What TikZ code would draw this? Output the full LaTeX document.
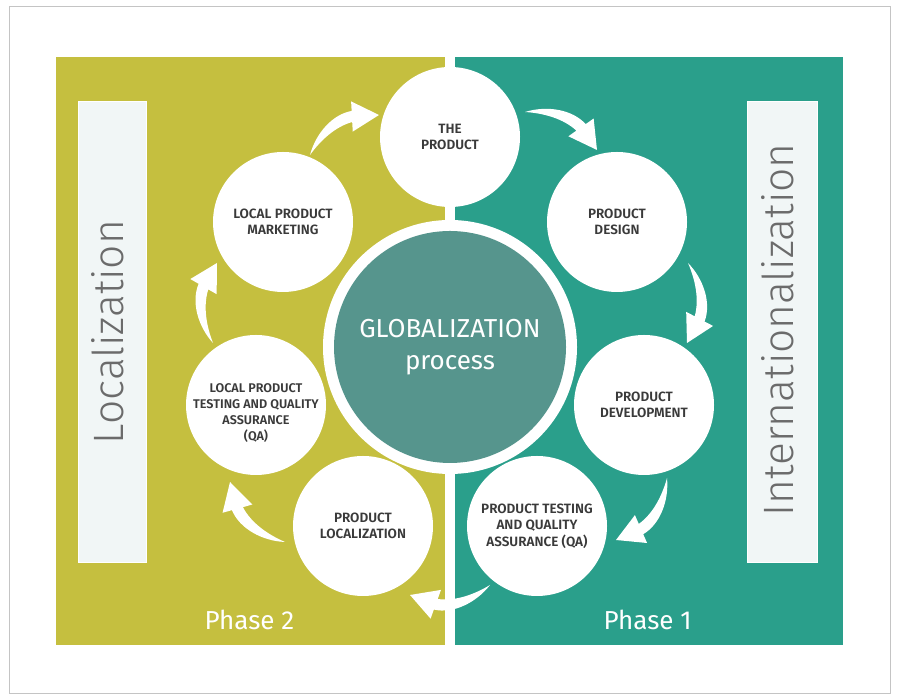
\documentclass[tikz,border=0pt]{standalone}
\usepackage{fontspec}
\setmainfont{Fira Sans}
\newfontfamily\lightfont{Fira Sans Light}
\newfontfamily\labelfont{Fira Sans SemiBold}
\usetikzlibrary{calc}
\definecolor{paneloli}{HTML}{C5BF3F}
\definecolor{panelteal}{HTML}{2A9F8B}
\definecolor{coreteal}{HTML}{56958D}
\definecolor{boxfill}{HTML}{F1F6F6}
\definecolor{boxtext}{HTML}{6B6B6B}
\definecolor{labelgray}{HTML}{3A3A3A}
\definecolor{framegray}{HTML}{C4C4C4}
\newcommand\flowarrow[2]{%
  \path (#1); \pgfgetlastxy{\arrAx}{\arrAy}%
  \path (#2); \pgfgetlastxy{\arrBx}{\arrBy}%
  \pgfmathsetmacro\arrLen{veclen(\arrBx-\arrAx,\arrBy-\arrAy)}%
  \pgfmathsetmacro\arrAng{atan2(\arrBy-\arrAy,\arrBx-\arrAx)}%
  \begin{scope}[shift={(#1)},rotate=\arrAng,x=\arrLen pt,y=\arrLen pt]
    \fill[white] (0,0) .. controls (0.2,0.2) and (0.5,0.3) .. (0.729,0.216)
      -- (0.783,0.323) -- (1,0) -- (0.611,-0.015) -- (0.665,0.092)
      .. controls (0.45,0.15) and (0.2,0.09) .. (0,0) -- cycle;
  \end{scope}}
\begin{document}
\begin{tikzpicture}[x=1pt,y=1pt,
  stepcircle/.style={circle, fill=white, minimum size=140pt, inner sep=0pt,
    align=center, text=labelgray, font=\labelfont\fontsize{13.5}{16.5}\selectfont},
  steptext/.style={align=center, text=labelgray, inner sep=0pt},
  sidebox/.style={fill=boxfill, draw=white, line width=1pt},
  sidetext/.style={rotate=90, text=boxtext, font=\lightfont\fontsize{42.5}{46}\selectfont},
  phasetext/.style={anchor=base west, text=white, font=\fontsize{26}{30}\selectfont}]
\useasboundingbox (0,0) rectangle (897,700);
\fill[white] (0,0) rectangle (897,700);
\draw[framegray, line width=1pt] (9.5,6) rectangle (890,693.5);
% panels
\fill[paneloli] (56,55) rectangle (445,643);
\fill[panelteal] (455,55) rectangle (843,643);
% side boxes
\node[sidebox, minimum width=68pt, minimum height=461pt, inner sep=0pt] (lbox) at (112,367.5) {};
\node[sidebox, minimum width=70pt, minimum height=461pt, inner sep=0pt] (ibox) at (782,367.5) {};
\node[sidetext] (loc) at (108,368) {Localization};
\node[sidetext] (intl) at (778,370) {Internationalization};
% phases
\node[phasetext] (ph2) at (201,70) {Phase 2};
\node[phasetext] (ph1) at (600,70) {Phase 1};
% centre
\node[circle, fill=white, minimum size=254pt, inner sep=0pt] (ring) at (450,353) {};
\node[circle, fill=coreteal, minimum size=232pt, inner sep=0pt, text=white,
  align=center, font=\fontsize{26}{32}\selectfont] (core) at (450,353) {GLOBALIZATION\\process};
% step circles
\node[stepcircle] (P) at (450,563) {THE\\PRODUCT};
\node[stepcircle] (D) at (617,478) {PRODUCT\\DESIGN};
\node[stepcircle] (V) at (644,295) {PRODUCT\\DEVELOPMENT};
\node[stepcircle] (T) at (537,174) {PRODUCT TESTING\\AND QUALITY\\ASSURANCE (QA)};
\node[stepcircle] (L) at (363,174) {PRODUCT\\LOCALIZATION};
\node[stepcircle] (Q) at (256,295) {};
\node[steptext, font=\labelfont\fontsize{12.6}{16.3}\selectfont] (Qtext) at (256,287) {LOCAL PRODUCT\\TESTING AND QUALITY\\ASSURANCE\\(QA)};
\node[stepcircle] (M) at (283,478) {LOCAL PRODUCT\\MARKETING};
% arrow ends
\coordinate (a1s) at (310,545); \coordinate (a1e) at (379,585);
\coordinate (a2s) at (525,588); \coordinate (a2e) at (597,550);
\coordinate (a3s) at (688,437); \coordinate (a3e) at (687,357);
\coordinate (a4s) at (667,222); \coordinate (a4e) at (616,160);
\coordinate (a5s) at (490,115); \coordinate (a5e) at (410,105);
\coordinate (a6s) at (285,158); \coordinate (a6e) at (230,218);
\coordinate (a7s) at (213,357); \coordinate (a7e) at (217,437);
\flowarrow{a1s}{a1e}
\flowarrow{a2s}{a2e}
\flowarrow{a3s}{a3e}
\flowarrow{a4s}{a4e}
\flowarrow{a5s}{a5e}
\flowarrow{a6s}{a6e}
\flowarrow{a7s}{a7e}
\end{tikzpicture}
\end{document}
